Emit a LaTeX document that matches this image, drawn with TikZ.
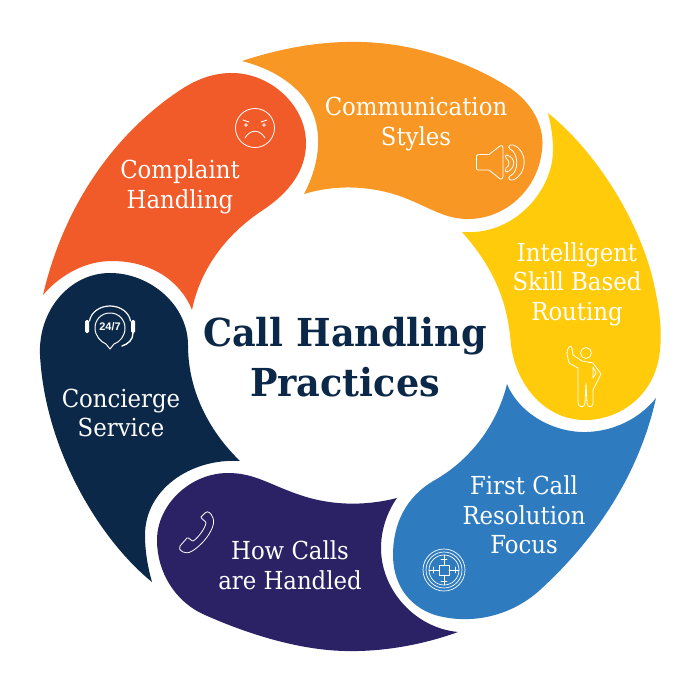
\documentclass[tikz,border=0pt]{standalone}
\usepackage{fontspec}
\setmainfont{DejaVu Serif}[FakeStretch=0.92]
\newfontfamily\titlefont{DejaVu Serif}[FakeStretch=0.95]
\setsansfont{Liberation Sans}
\definecolor{cOrange}{HTML}{F89723}
\definecolor{cYellow}{HTML}{FFCB0B}
\definecolor{cBlue}{HTML}{2E7BBF}
\definecolor{cPurple}{HTML}{2A2264}
\definecolor{cNavy}{HTML}{0B2848}
\definecolor{cRed}{HTML}{F15B2A}
\tikzset{
  lbl/.style={text=white,align=center,font=\fontsize{24.8}{29.5}\selectfont,inner sep=0pt},
  ttl/.style={text=cNavy,align=center,font=\titlefont\bfseries\fontsize{38.5}{50}\selectfont,inner sep=0pt},
  ico/.style={draw=white,line width=0.8pt,line join=round,line cap=round,fill=none}
}
\begin{document}
\begin{tikzpicture}[x=1pt,y=-1pt]
\useasboundingbox (0,0) rectangle (700,700);
\fill[white] (0,0) rectangle (700,700);
% orange
\fill[cOrange] (242,61) .. controls (300,42) and (360,35) .. (420,50) .. controls (460,60) and (490,75) .. (510,88) .. controls (535,105) and (545,130) .. (542,150) .. controls (538,190) and (505,219) .. (468,219) .. controls (440,219) and (425,203) .. (390,193) .. controls (360,185) and (330,186) .. (304,194) .. controls (322,160) and (325,120) .. (300,93) .. controls (285,77) and (265,67) .. (242,61) -- cycle;
% yellow
\fill[cYellow] (548,113) .. controls (600,155) and (640,225) .. (653,280) .. controls (660,310) and (662,330) .. (660,350) .. controls (656,395) and (620,420) .. (585,420) .. controls (545,420) and (516,385) .. (511,345) .. controls (508,310) and (500,275) .. (462,232) .. controls (515,236) and (553,190) .. (553,150) .. controls (553,137) and (551,125) .. (548,113) -- cycle;
% blue
\fill[cBlue] (656,398) .. controls (640,470) and (600,535) .. (540,590) .. controls (510,617) and (470,625) .. (435,615) .. controls (405,605) and (393,580) .. (393,555) .. controls (393,525) and (405,497) .. (435,480) .. controls (470,460) and (497,425) .. (507,384) .. controls (520,415) and (555,433) .. (587,432) .. controls (615,431) and (640,418) .. (656,398) -- cycle;
% purple
\fill[cPurple] (397,498) .. controls (370,505) and (335,507) .. (300,495) .. controls (270,485) and (255,473) .. (228,473) .. controls (190,473) and (157,505) .. (157,540) .. controls (157,572) and (175,602) .. (205,615) .. controls (250,635) and (300,650) .. (345,651) .. controls (385,652) and (425,644) .. (458,632) .. controls (415,628) and (381,590) .. (381,548) .. controls (381,530) and (387,512) .. (397,498) -- cycle;
% navy
\fill[cNavy] (152,582) .. controls (100,540) and (45,450) .. (40,355) .. controls (38,310) and (70,273) .. (110,273) .. controls (150,273) and (188,305) .. (188,345) .. controls (188,395) and (213,435) .. (240,461) .. controls (190,458) and (145,490) .. (145,535) .. controls (145,552) and (148,568) .. (152,582) -- cycle;
% red
\fill[cRed] (192,310) .. controls (200,270) and (225,235) .. (263,210) .. controls (290,192) and (306,170) .. (306,143) .. controls (306,105) and (270,73) .. (232,73) .. controls (215,73) and (200,78) .. (185,87) .. controls (120,128) and (65,200) .. (43,295) .. controls (60,275) and (85,261) .. (112,261) .. controls (150,261) and (180,280) .. (192,310) -- cycle;

% labels
\node[lbl] (comm) at (416,124) {Communication\\Styles};
\node[lbl] (comp) at (180,187) {Complaint\\Handling};
\node[lbl] (intel) at (577,284) {Intelligent\\Skill Based\\Routing};
\node[lbl] (first) at (524,515) {First Call\\Resolution\\Focus};
\node[lbl] (how) at (290,565) {How Calls\\are Handled};
\node[lbl] (conc) at (121,413) {Concierge\\Service};
\node[ttl] (title) at (345,357) {Call Handling\\Practices};

% face
\draw[ico] (255,128) circle (19.5);
\draw[ico] (246,125) circle (1.4) (264,125) circle (1.4);
\draw[ico] (243,120) -- (249,122) (267,120) -- (261,122);
\draw[ico] (245,138) .. controls (250,129) and (260,129) .. (265,138);
% speaker
\draw[ico] (478,154.5) -- (489,154.5) -- (500,146) .. controls (502,144.5) and (503,146) .. (503,148) -- (503,176) .. controls (503,179) and (501,180) .. (499,178) -- (489,170) -- (478,170) .. controls (476.5,170) and (476.5,169) .. (476.5,168) -- (476.5,156) .. controls (476.5,155) and (477,154.5) .. (478,154.5) -- cycle;
\draw[ico] (510,149) .. controls (518,152) and (520,172) .. (510,176) .. controls (507,178) and (510,181) .. (513,180) .. controls (528,174) and (528,150) .. (513,145) .. controls (510,144) and (507,147) .. (510,149) -- cycle;
\draw[ico] (507,155) .. controls (516,158) and (516,168) .. (507,172) .. controls (505,173) and (505,170) .. (506,168) .. controls (510,166) and (510,161) .. (506,158) .. controls (505,157) and (505,154) .. (507,155) -- cycle;
% person
\draw[ico] (586,353) circle (5.5);
\draw[ico] (569,347) .. controls (567,349) and (567,352) .. (567,354) -- (569,363) -- (578,368) -- (578,403) .. controls (578,408) and (585,408) .. (585,403) -- (586,383) -- (587,403) .. controls (587,408) and (593,408) .. (593,403) -- (593,390) -- (601,374) -- (593,363) -- (582,361) -- (573,355) -- (572,348) .. controls (572,346) and (570,346) .. (569,347) -- cycle;
\draw[ico] (593,367) -- (596,373) -- (593,378) -- cycle;
% target
\foreach \r in {21,18,15}{\draw[ico,line width=0.7pt] (444,570) circle (\r);}
\draw[ico] (439,565) rectangle (449,575);
\draw[ico] (444,555) -- (444,565) (444,575) -- (444,585) (429,570) -- (439,570) (449,570) -- (459,570);
\draw[ico] (441,559) -- (447,559) (441,581) -- (447,581) (433,567) -- (433,573) (455,567) -- (455,573);
% phone
\draw[ico] (205,513) .. controls (208,510) and (211,513) .. (213,518) .. controls (216,525) and (208,537) .. (202,543) .. controls (195,550) and (188,555) .. (183,552) .. controls (180,550) and (178,548) .. (180,546) -- (187,538) .. controls (189,537) and (191,541) .. (193,541) .. controls (197,539) and (205,529) .. (206,523) .. controls (206,521) and (201,519) .. (201,517) -- cycle;
% 24/7 headset
\draw[ico,line width=1pt] (110,313) .. controls (101,313) and (95,320) .. (95,328) .. controls (95,336) and (101,342) .. (106,344) -- (110,349) -- (114,344) .. controls (120,342) and (125,336) .. (125,328) .. controls (125,320) and (119,313) .. (110,313) -- cycle;
\draw[ico,line width=1.2pt] (89.5,321) .. controls (91,312) and (100,306) .. (110,306) .. controls (120,306) and (129,312) .. (130.5,321);
\fill[white,rounded corners=1.5pt] (85,320) rectangle (89,333);
\fill[white,rounded corners=1.5pt] (131,320) rectangle (135,333);
\draw[ico,line width=1.4pt] (133,333) .. controls (133,340) and (128,344) .. (122,346);
\node[text=white,font=\sffamily\bfseries\fontsize{11}{12}\selectfont,inner sep=0pt] (clock) at (110,327) {24/7};
\end{tikzpicture}
\end{document}
